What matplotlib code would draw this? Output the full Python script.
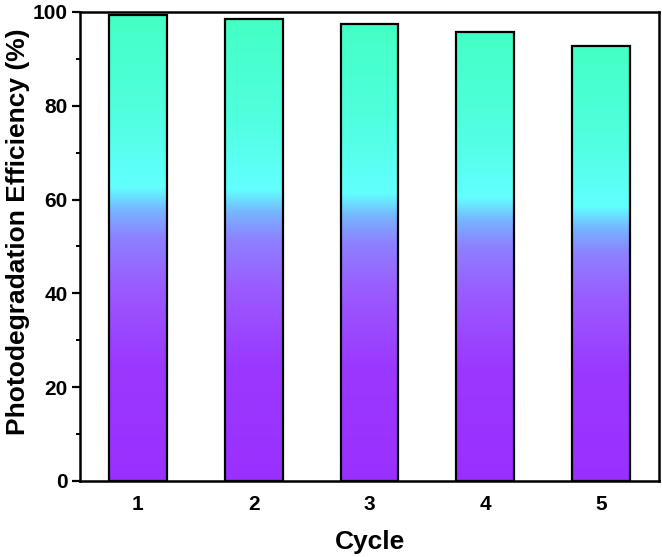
import matplotlib
matplotlib.use("Agg")
import matplotlib.pyplot as plt
import numpy as np
from matplotlib.colors import LinearSegmentedColormap
from matplotlib.ticker import MultipleLocator

cycles = [1, 2, 3, 4, 5]
efficiency = [99.4, 98.6, 97.4, 95.8, 92.8]
tick_labels = ["1", "2", "3", "4", "5"]

plt.rcParams['font.family'] = ['Liberation Sans', 'DejaVu Sans']
plt.rcParams['font.weight'] = 'bold'

cmap = LinearSegmentedColormap.from_list("grad", [
    (0.00, "#9B30FF"),
    (0.25, "#9A38FF"),
    (0.42, "#9A5CFF"),
    (0.52, "#8E80FF"),
    (0.58, "#77B4FF"),
    (0.63, "#62FFFF"),
    (0.78, "#50FFE0"),
    (1.00, "#44FFC4"),
])

fig = plt.figure(figsize=(6.62, 5.57), dpi=100)
ax = fig.add_axes([80/662, 1-481/557, (659-80)/662, (481-12)/557])

width = 0.5
grad = np.linspace(0, 1, 256).reshape(-1, 1)
for x, h in zip(cycles, efficiency):
    ax.imshow(grad, cmap=cmap, origin='lower', aspect='auto',
              extent=(x - width/2, x + width/2, 0, h), zorder=1,
              interpolation='bilinear')
bars = ax.bar(cycles, efficiency, width=width, facecolor='none',
              edgecolor='black', linewidth=1.6, zorder=2)

ax.set_xlim(0.5, 5.5)
ax.set_ylim(0, 100)
ax.set_xticks(cycles)
ax.set_xticklabels(tick_labels)
ax.yaxis.set_major_locator(MultipleLocator(20))
ax.yaxis.set_minor_locator(MultipleLocator(10))
ax.tick_params(axis='x', length=0, pad=10, labelsize=15)
ax.tick_params(axis='y', which='major', length=6, width=1.6, direction='out', labelsize=15, pad=3)
ax.tick_params(axis='y', which='minor', length=3, width=1.4, direction='out')
for lab in ax.get_xticklabels() + ax.get_yticklabels():
    lab.set_fontweight('bold')
for s in ax.spines.values():
    s.set_linewidth(1.8)

ax.set_xlabel("Cycle", fontsize=19, fontweight='bold')
ax.set_ylabel("Photodegradation Efficiency (%)", fontsize=19, fontweight='bold')
ax.xaxis.set_label_coords(0.5, -(542 - 481) / 469, transform=ax.transAxes)
ax.xaxis.label.set_va('center')
ax.yaxis.set_label_coords(-(80 - 18) / 579, (481 - 232) / 469, transform=ax.transAxes)
ax.yaxis.label.set_va('center')

fig.savefig("out.png", dpi=100)
